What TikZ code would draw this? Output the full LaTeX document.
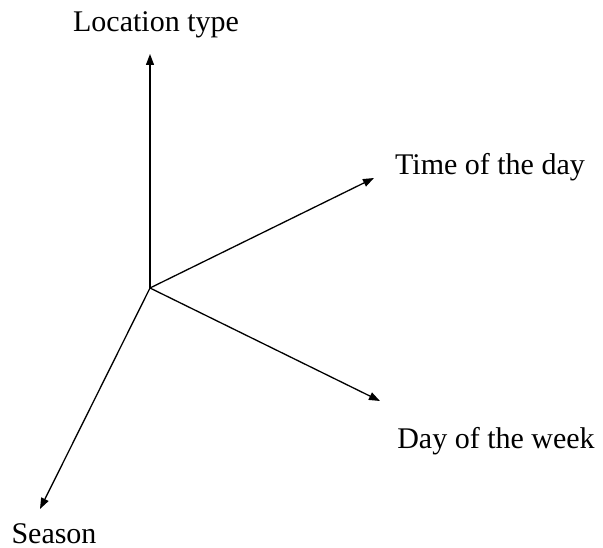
\documentclass[tikz,border=0pt]{standalone}
\usepackage{fontspec}
\setmainfont{Liberation Serif}
\usetikzlibrary{arrows.meta}
\begin{document}
\begin{tikzpicture}[x=1pt,y=-1pt,
  axis/.style={line width=1.3pt,-{Triangle[length=11pt,width=8pt]}},
  lbl/.style={anchor=base,inner sep=0pt,font=\fontsize{30}{36}\selectfont}]
\useasboundingbox (0,0) rectangle (603,548);
\coordinate (O) at (150,288);
\coordinate (tU) at (150,54);
\coordinate (tT) at (374,178);
\coordinate (tD) at (380,401);
\coordinate (tS) at (40,509);
\draw[axis] (O) -- (tU);
\draw[axis] (O) -- (tT);
\draw[axis] (O) -- (tD);
\draw[axis] (O) -- (tS);
\node[lbl] (L) at (156,32) {Location type};
\node[lbl] (T) at (490,175) {Time of the day};
\node[lbl] (D) at (496,448) {Day of the week};
\node[lbl] (S) at (54,543) {Season};
\end{tikzpicture}
\end{document}
